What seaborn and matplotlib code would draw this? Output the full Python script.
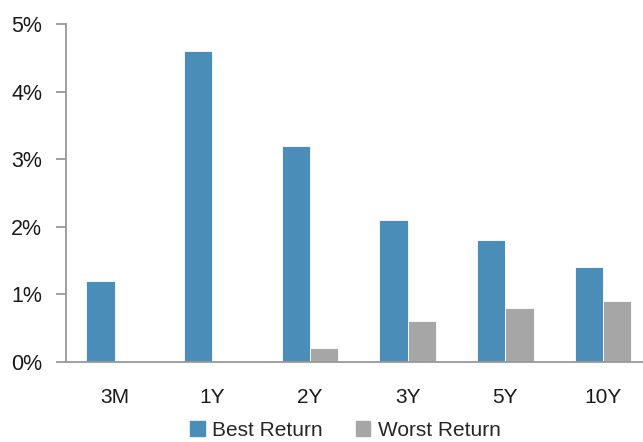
import matplotlib
matplotlib.use("Agg")
import matplotlib.pyplot as plt
import matplotlib.ticker as mtick
import seaborn as sns
import pandas as pd

periods = ["3M", "1Y", "2Y", "3Y", "5Y", "10Y"]
best_return = [1.2, 4.6, 3.2, 2.1, 1.8, 1.4]
worst_return = [0.0, 0.0, 0.2, 0.6, 0.8, 0.9]
series_names = ["Best Return", "Worst Return"]
colors = ["#4A8DB8", "#A6A6A6"]

df = pd.DataFrame({
    "Period": periods * 2,
    "Return": best_return + worst_return,
    "Series": [series_names[0]] * len(periods) + [series_names[1]] * len(periods),
})

sns.set_style("white")
plt.rcParams["font.family"] = ["Liberation Sans", "DejaVu Sans"]

fig = plt.figure(figsize=(6.43, 4.42), dpi=100)
ax = fig.add_axes([0.1026, 0.181, 0.911, 0.7647])

sns.barplot(data=df, x="Period", y="Return", hue="Series", order=periods,
            hue_order=series_names, palette=colors, saturation=1, width=0.58,
            edgecolor="white", linewidth=0.6, ax=ax, legend=False)

ax.set_ylim(0, 5)
ax.set_xlim(-0.5, len(periods) - 0.5)
ax.yaxis.set_major_locator(mtick.MultipleLocator(1))
ax.yaxis.set_major_formatter(mtick.FuncFormatter(lambda v, p: f"{v:.0f}%"))

# labels at centres, ticks at category boundaries
ax.set_xticks(range(len(periods)))
ax.set_xticklabels(periods)
ax.set_xticks([i - 0.5 for i in range(len(periods) + 1)], minor=True)
ax.tick_params(axis="x", which="major", length=0, pad=19, labelsize=15, colors="#1a1a1a")
ax.tick_params(axis="x", which="minor", length=7, width=1.3, color="#999999", direction="out")
ax.tick_params(axis="y", length=7, width=1.3, color="#999999", pad=10, labelsize=15.5,
               labelcolor="#1a1a1a", direction="out", left=True)
ax.set_xlabel("")
ax.set_ylabel("")

for side in ["top", "right"]:
    ax.spines[side].set_visible(False)
for side in ["left", "bottom"]:
    ax.spines[side].set_color("#999999")
    ax.spines[side].set_linewidth(1.3)

handles = [plt.Rectangle((0, 0), 1, 1, color=c) for c in colors]
fig.legend(handles, series_names, loc="center", bbox_to_anchor=(0.537, 0.027),
           ncol=2, frameon=False, fontsize=15, handlelength=0.7, handleheight=0.7,
           handletextpad=0.35, columnspacing=1.6, borderpad=0.1)

fig.savefig("out.png", dpi=100)
